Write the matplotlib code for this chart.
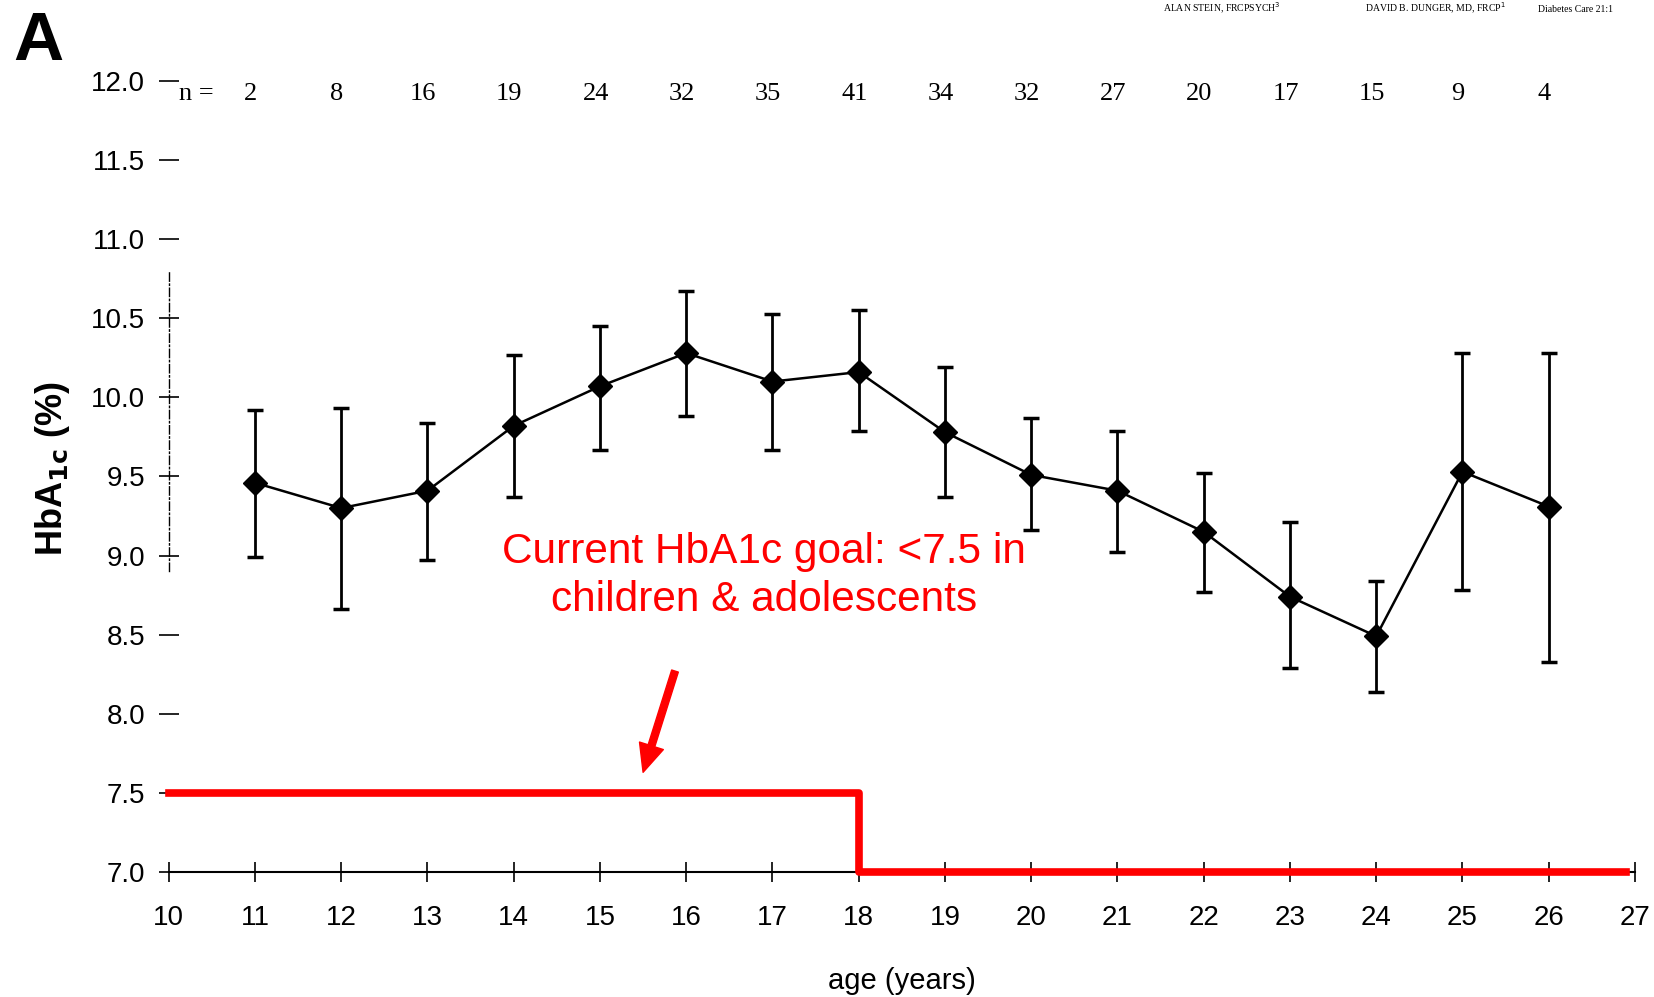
import numpy as np
import matplotlib
matplotlib.use('Agg')
import matplotlib.pyplot as plt

# Data
ages = [11, 12, 13, 14, 15, 16, 17, 18, 19, 20, 21, 22, 23, 24, 25, 26]
hba1c_mean = [9.46, 9.30, 9.41, 9.82, 10.07, 10.28, 10.10, 10.16, 9.78, 9.51, 9.41, 9.15, 8.74, 8.49, 9.53, 9.31]
hba1c_upper = [9.92, 9.93, 9.84, 10.27, 10.45, 10.67, 10.53, 10.55, 10.19, 9.87, 9.79, 9.52, 9.21, 8.84, 10.28, 10.28]
hba1c_lower = [8.99, 8.66, 8.97, 9.37, 9.67, 9.88, 9.67, 9.79, 9.37, 9.16, 9.02, 8.77, 8.29, 8.14, 8.78, 8.33]
n_counts = [2, 8, 16, 19, 24, 32, 35, 41, 34, 32, 27, 20, 17, 15, 9, 4]

# Goal line: <7.5 up to 18 years, <7.0 after
goal_x = [10, 18, 26.9]
goal_y = [7.5, 7.0, 7.0]

yticks = [7.0, 7.5, 8.0, 8.5, 9.0, 9.5, 10.0, 10.5, 11.0, 11.5, 12.0]
xticks = list(range(10, 28))

mean = np.array(hba1c_mean)
yerr = [mean - np.array(hba1c_lower), np.array(hba1c_upper) - mean]

fig = plt.figure(figsize=(16.54, 9.97), dpi=100)
ax = fig.add_axes([0.102, 0.1254, 0.8865, 0.7934])

ax.errorbar(ages, mean, yerr=yerr, fmt='-D', color='black', ecolor='black',
            markersize=12, linewidth=1.8, elinewidth=2, capsize=6, capthick=2.5)

ax.plot(goal_x, goal_y, drawstyle='steps-post', color='#ff0000', linewidth=5.5,
        clip_on=False, zorder=5)

ax.set_xlim(10, 27)
ax.set_ylim(7, 12)

# axes look
ax.spines['top'].set_visible(False)
ax.spines['right'].set_visible(False)
ax.spines['left'].set_bounds(8.9, 10.8)
ax.spines['left'].set_linestyle((0, (6, 2, 1, 2)))
ax.spines['left'].set_linewidth(1)
ax.spines['bottom'].set_linewidth(1.5)

ax.set_yticks(yticks)
ax.set_yticklabels(['%.1f' % v for v in yticks])
ax.set_xticks(xticks)
ax.set_xticklabels([str(v) for v in xticks])
ax.tick_params(axis='y', direction='inout', length=14, width=1.2, pad=10,
               labelsize=20)
ax.tick_params(axis='x', direction='inout', length=14, width=1.2, pad=17,
               labelsize=20)
for lab in ax.get_xticklabels() + ax.get_yticklabels():
    lab.set_family('Liberation Sans')

ax.set_xlabel('age (years)', fontsize=21, family='Liberation Sans', labelpad=26)
ax.set_ylabel('HbA$_{\\mathbf{1c}}$ (%)', fontsize=26, fontweight='bold',
              family='Liberation Sans')
ax.yaxis.set_label_coords(-0.066, 0.51)

# n per age group
ax.text(10.32, 11.92, 'n =', fontsize=19, family='Liberation Serif',
        ha='center', va='center')
for a, n in zip(ages, n_counts):
    ax.text(a - 0.05, 11.92, str(n), fontsize=19, family='Liberation Serif',
            ha='center', va='center')

# Annotation
ax.text(16.9, 8.87, 'Current HbA1c goal: <7.5 in\nchildren & adolescents',
        color='#ff0000', fontsize=30.5, family='Liberation Sans',
        ha='center', va='center', linespacing=1.25)
ax.annotate('', xy=(15.5, 7.63), xytext=(15.87, 8.27),
            arrowprops=dict(facecolor='#ff0000', edgecolor='#ff0000',
                            width=5, headwidth=18, headlength=20))

# panel letter and page header
fig.text(0.008, 0.94, 'A', fontsize=50, fontweight='bold', family='Liberation Sans')
fig.text(0.703, 0.988, 'ALAN STEIN, FRCPSYCH$^3$', fontsize=7, family='Liberation Serif')
fig.text(0.825, 0.988, 'DAVID B. DUNGER, MD, FRCP$^1$', fontsize=7, family='Liberation Serif')
fig.text(0.93, 0.988, 'Diabetes Care 21:1', fontsize=7, family='Liberation Serif')

fig.savefig('out.png', dpi=100)
